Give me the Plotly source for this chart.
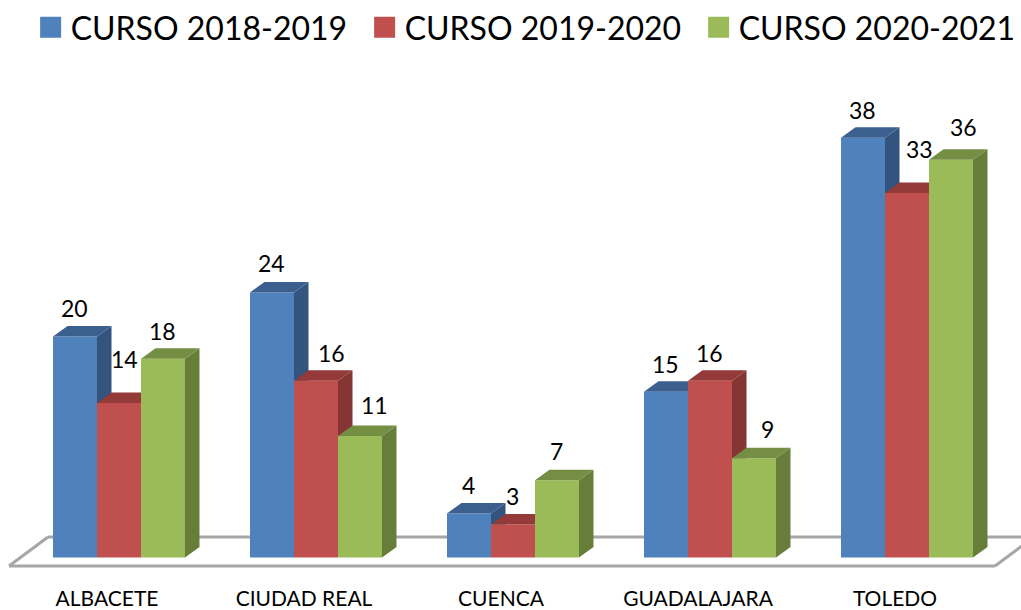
import plotly.graph_objects as go

categories = ["ALBACETE", "CIUDAD REAL", "CUENCA", "GUADALAJARA", "TOLEDO"]
series_names = ["CURSO 2018-2019", "CURSO 2019-2020", "CURSO 2020-2021"]
values_2018 = [20, 24, 4, 15, 38]
values_2019 = [14, 16, 3, 16, 33]
values_2020 = [18, 11, 7, 9, 36]
all_values = [values_2018, values_2019, values_2020]

front_colors = ["#4F81BD", "#C0504D", "#9BBB59"]
side_colors = ["#33547F", "#853533", "#677E3B"]
top_colors = ["#3B6090", "#943A38", "#748E43"]

# label offsets (px) for the data labels that were moved by hand in the original
label_dx = [[-1, -1, -1, -1, -1], [5, 15, -1, -1, 12], [-1, 14, -1, 13, 12]]
label_dy = [[29, 29, 28, 28, 28], [44, 28, 28, 28, 44], [28, 31, 29, 29, 33]]

W, H = 1021, 610
LEGEND_ROOM = 12
PLOT_B = 584
BASE_PX = 557.6
PX_PER_UNIT = 11.05
GROUP_PX = 197.0
X0_PX = 119.0
BAR_W = 44.0 / GROUP_PX
DX = 14.5 / GROUP_PX
DY = 10.5 / PX_PER_UNIT


def px_x(p):
    return (p - X0_PX) / GROUP_PX


def px_y(p):
    return (BASE_PX - p) / PX_PER_UNIT


def clip(poly, axis, level, keep_above):
    out = []
    n = len(poly)
    inside = (lambda p: p[axis] >= level) if keep_above else (lambda p: p[axis] <= level)
    for i in range(n):
        a, b = poly[i], poly[(i + 1) % n]
        if inside(a):
            out.append(a)
        if inside(a) != inside(b):
            t = (level - a[axis]) / (b[axis] - a[axis])
            out.append((a[0] + t * (b[0] - a[0]), a[1] + t * (b[1] - a[1])))
    return out


def add_poly(fig, poly, color):
    if len(poly) < 3:
        return
    xs = [p[0] for p in poly] + [poly[0][0]]
    ys = [p[1] for p in poly] + [poly[0][1]]
    fig.add_trace(go.Scatter(x=xs, y=ys, mode="lines", fill="toself", fillcolor=color,
                             line=dict(width=0, color=color), hoverinfo="skip", showlegend=False))


fig = go.Figure()

for s, name in enumerate(series_names):
    fig.add_trace(go.Bar(x=list(range(len(categories))), y=all_values[s],
                         width=BAR_W, offset=(s - 1.5) * BAR_W,
                         marker=dict(color=front_colors[s], line=dict(width=0)),
                         name=name, showlegend=False))

annotations = []
for c in range(len(categories)):
    for s in range(3):
        h = all_values[s][c]
        left = c + (s - 1.5) * BAR_W
        right = left + BAR_W
        next_h = all_values[s + 1][c] if s < 2 else 0
        side = [(right, 0), (right + DX, DY), (right + DX, h + DY), (right, h)]
        add_poly(fig, clip(side, 1, next_h, True), side_colors[s])
        top = [(left, h), (left + DX, h + DY), (right + DX, h + DY), (right, h)]
        add_poly(fig, clip(top, 0, right, False), top_colors[s])
        add_poly(fig, clip(clip(top, 0, right, True), 1, next_h, True), top_colors[s])
        annotations.append(dict(x=left + BAR_W / 2, y=h, xref="x", yref="y", text=str(h), showarrow=False,
                                xshift=label_dx[s][c], yshift=label_dy[s][c],
                                font=dict(family="Lato", size=23, color="#000000"),
                                xanchor="center", yanchor="middle"))

for s, name in enumerate(series_names):
    fig.add_trace(go.Scatter(x=[None], y=[None], mode="markers", name=name,
                             marker=dict(symbol="square", size=16, color=front_colors[s],
                                         line=dict(width=5, color=front_colors[s]))))

floor = [
    (9, 566, 995, 566),
    (9, 566, 48, 537),
    (48, 537, 1040, 537),
    (995, 566, 1034, 537),
]
shapes = [dict(type="line", xref="x", yref="y", layer="below",
               x0=px_x(a), y0=px_y(b), x1=px_x(c), y1=px_y(d),
               line=dict(color="#A6A6A6", width=3)) for a, b, c, d in floor]

fig.update_layout(
    width=W + LEGEND_ROOM, height=H, autosize=False,
    margin=dict(l=0, r=LEGEND_ROOM, t=0, b=H - PLOT_B),
    paper_bgcolor="#FFFFFF", plot_bgcolor="#FFFFFF",
    font=dict(family="Lato", color="#000000"),
    barmode="overlay",
    shapes=shapes, annotations=annotations,
    showlegend=True,
    legend=dict(orientation="h", x=0.03, y=1.0, xanchor="left", yanchor="top",
                font=dict(family="Lato", size=32, color="#000000"),
                entrywidth=289, entrywidthmode="pixels", itemclick=False, itemdoubleclick=False,
                bgcolor="rgba(0,0,0,0)", traceorder="normal"),
    xaxis=dict(range=[px_x(0), px_x(W)], tickmode="array",
               tickvals=[c + px_x(107) for c in range(len(categories))], ticktext=categories,
               showgrid=False, zeroline=False, showline=False, ticks="", fixedrange=True,
               tickfont=dict(family="Lato", size=21, color="#000000"), automargin=False),
    yaxis=dict(range=[px_y(PLOT_B), px_y(0)], visible=False, showgrid=False, zeroline=False, fixedrange=True),
)
fig.write_html("out.html", config=dict(displayModeBar=False),
               post_script="document.body.style.margin='0';document.body.style.overflow='hidden';")
